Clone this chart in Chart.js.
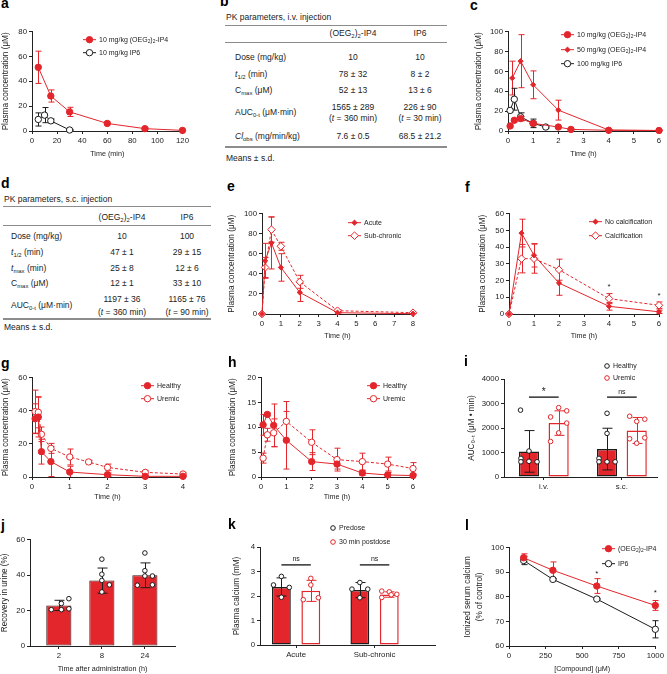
<!DOCTYPE html>
<html>
<head>
<meta charset="utf-8">
<title>PK figure</title>
<script src="https://cdn.jsdelivr.net/npm/chart.js@4.4.1/dist/chart.umd.min.js"></script>
<style>
body{margin:0;width:667px;height:674px;position:relative;background:#fff;overflow:hidden;
  font-family:"Liberation Sans",Arial,sans-serif;color:#222}
.lbl{position:absolute;font-weight:bold;font-size:14px;line-height:14px;color:#000}
.t{position:absolute;font-size:8.5px;line-height:10px;white-space:nowrap}
.c{transform:translateX(-50%)}
.t sub{font-size:70%;line-height:0;vertical-align:-0.3em}
.rule{position:absolute;height:0;border-top:1px solid #8c8c8c}
.rule.b{border-top-width:2px}
</style>
</head>
<body>

<div class="lbl" style="left:1px;top:-4px">a</div>
<div class="lbl" style="left:220px;top:-6px">b</div>
<div class="lbl" style="left:470px;top:-2px">c</div>
<div class="lbl" style="left:1px;top:176px">d</div>
<div class="lbl" style="left:227px;top:179px">e</div>
<div class="lbl" style="left:465px;top:180px">f</div>
<div class="lbl" style="left:1px;top:356px">g</div>
<div class="lbl" style="left:228px;top:355px">h</div>
<div class="lbl" style="left:464px;top:354px">i</div>
<div class="lbl" style="left:1px;top:518px">j</div>
<div class="lbl" style="left:228px;top:517px">k</div>
<div class="lbl" style="left:465px;top:518px">l</div>

<!-- b: i.v. table -->
<div class="t" style="left:226px;top:12px">PK parameters, i.v. injection</div>
<div class="rule" style="left:225px;top:25px;width:222px"></div>
<div class="t c" style="left:353px;top:28px">(OEG<sub>2</sub>)<sub>2</sub>-IP4</div>
<div class="t c" style="left:420px;top:28px">IP6</div>
<div class="rule" style="left:225px;top:42px;width:222px"></div>
<div class="t" style="left:235px;top:52px">Dose (mg/kg)</div>
<div class="t c" style="left:353px;top:52px">10</div>
<div class="t c" style="left:420px;top:52px">10</div>
<div class="t" style="left:235px;top:69px"><i>t</i><sub>1/2</sub> (min)</div>
<div class="t c" style="left:353px;top:69px">78 ± 32</div>
<div class="t c" style="left:420px;top:69px">8 ± 2</div>
<div class="t" style="left:235px;top:85px">C<sub>max</sub> (μM)</div>
<div class="t c" style="left:353px;top:85px">52 ± 13</div>
<div class="t c" style="left:420px;top:85px">13 ± 6</div>
<div class="t" style="left:235px;top:107px">AUC<sub>0-t</sub> (μM·min)</div>
<div class="t c" style="left:353px;top:102px">1565 ± 289</div>
<div class="t c" style="left:420px;top:102px">226 ± 90</div>
<div class="t c" style="left:353px;top:113px">(<i>t</i> = 360 min)</div>
<div class="t c" style="left:420px;top:113px">(<i>t</i> = 30 min)</div>
<div class="t" style="left:235px;top:131px"><i>Cl</i><sub>obs</sub> (mg/min/kg)</div>
<div class="t c" style="left:353px;top:131px">7.6 ± 0.5</div>
<div class="t c" style="left:420px;top:131px">68.5 ± 21.2</div>
<div class="rule b" style="left:225px;top:146px;width:222px"></div>
<div class="t" style="left:226px;top:153px">Means ± s.d.</div>

<!-- d: s.c. table -->
<div class="t" style="left:4px;top:194px">PK parameters, s.c. injection</div>
<div class="rule" style="left:3px;top:206px;width:208px"></div>
<div class="t c" style="left:122px;top:212px">(OEG<sub>2</sub>)<sub>2</sub>-IP4</div>
<div class="t c" style="left:187px;top:212px">IP6</div>
<div class="rule" style="left:3px;top:225px;width:208px"></div>
<div class="t" style="left:11px;top:231px">Dose (mg/kg)</div>
<div class="t c" style="left:122px;top:231px">10</div>
<div class="t c" style="left:187px;top:231px">100</div>
<div class="t" style="left:11px;top:247px"><i>t</i><sub>1/2</sub> (min)</div>
<div class="t c" style="left:122px;top:247px">47 ± 1</div>
<div class="t c" style="left:187px;top:247px">29 ± 15</div>
<div class="t" style="left:11px;top:263px"><i>t</i><sub>max</sub> (min)</div>
<div class="t c" style="left:122px;top:263px">25 ± 8</div>
<div class="t c" style="left:187px;top:263px">12 ± 6</div>
<div class="t" style="left:11px;top:278px">C<sub>max</sub> (μM)</div>
<div class="t c" style="left:122px;top:278px">12 ± 1</div>
<div class="t c" style="left:187px;top:278px">33 ± 10</div>
<div class="t" style="left:11px;top:300px">AUC<sub>0-t</sub> (μM·min)</div>
<div class="t c" style="left:122px;top:294px">1197 ± 36</div>
<div class="t c" style="left:187px;top:294px">1165 ± 76</div>
<div class="t c" style="left:122px;top:307px">(<i>t</i> = 360 min)</div>
<div class="t c" style="left:187px;top:307px">(<i>t</i> = 90 min)</div>
<div class="rule b" style="left:3px;top:318px;width:208px"></div>
<div class="t" style="left:4px;top:322px">Means ± s.d.</div>

<script>
// ---------- data ----------
// a: i.v., time in min
var aTimeIP4 = [5, 15, 30, 60, 90, 120];
var aIP4 = [51.3, 28.2, 15.4, 6.1, 1.9, 0.5];
var aIP4Sd = [13, 4.9, 3.7, 1, 0.8, 0.3];
var aTimeIP6 = [5, 10, 15, 30];
var aIP6 = [9.3, 12.8, 8.2, 0.8];
var aIP6Sd = [5.3, 6.1, 1.5, 0.5];

// c: s.c., time in h
var cTime10 = [0.083, 0.25, 0.5, 1, 2, 2.5, 4, 6];
var c10 = [5, 10.8, 12.5, 7.7, 4, 1.6, 0.7, 0.5];
var c10Sd = [1, 1.5, 2, 2, 1, 0.5, 0.3, 0.2];
var cTime50 = [0.167, 0.5, 1, 2, 4, 6];
var c50 = [53.3, 70.3, 46.5, 21, 1, 0.5];
var c50Sd = [17, 26.7, 14, 10, 0.5, 0.3];
var cTimeIP6 = [0.083, 0.25, 0.5, 1, 1.5];
var cIP6 = [20.7, 32, 14.3, 7.7, 4];
var cIP6Sd = [1.5, 11, 4, 4.3, 1];

// e
var eTime = [0, 0.167, 0.5, 1, 2, 4, 8];
var eAcute = [0, 53, 70.9, 46.4, 21.5, 1.3, 0.3];
var eAcuteSd = [0, 17.4, 26, 13.7, 9, 0.5, 0.3];
var eSub = [0, 46.4, 84.1, 67.5, 32.1, 3.3, 1.3];
var eSubSd = [0, 10, 12.5, 4, 6.5, 1, 0.5];

// f
var fTime = [0, 0.5, 1, 2, 4, 6];
var fNoCalc = [0, 48.4, 35.1, 18.5, 4.6, 1.3];
var fNoCalcSd = [0, 8.3, 7, 7.3, 2.3, 1];
var fCalc = [0, 33.1, 33.1, 26.5, 9.2, 5.2];
var fCalcSd = [0, 8.5, 8.7, 6.3, 3, 2];
var fStarX = [4, 6];
var fStarY = [16, 10.8];

// g
var gTimeHealthy = [0.083, 0.167, 0.25, 0.5, 1, 2, 3, 4];
var gHealthy = [35.2, 36.2, 15.3, 9.3, 3, 1.4, 0.4, 0.4];
var gHealthySd = [9, 12, 7.5, 9, 3.5, 1, 0.3, 0.2];
var gTimeUremic = [0.083, 0.167, 0.25, 0.5, 1, 1.5, 2, 3, 4];
var gUremic = [39.5, 39.1, 25.8, 17.3, 12.1, 9.1, 5.8, 2.8, 1.8];
var gUremicSd = [13, 9.4, 4.4, 3, 4.8, 1, 2, 1, 0.7];

// h
var hTime = [0.083, 0.25, 0.5, 1, 2, 3, 4, 5, 6];
var hHealthy = [10.5, 12.6, 10.4, 7.4, 3.1, 2.6, 0.8, 0.4, 0.3];
var hHealthySd = [2.1, 0.3, 4.3, 5.8, 1.8, 1, 0.5, 0.5, 0.3];
var hUremic = [3.8, 8.5, 8.9, 11.2, 7, 3.5, 3.1, 2.6, 1.7];
var hUremicSd = [1, 1.3, 2.8, 4, 2.5, 2.3, 1.7, 1.4, 1.2];

// i: AUC bars
var iGroups = ['i.v.', 's.c.'];
var iHealthy = [1045, 1140];
var iHealthySd = [850, 850];
var iUremic = [2200, 1900];
var iUremicSd = [500, 530];
var iHealthyDots = [[2730, 1060, 760, 620, 640, 620], [2600, 1780, 760, 620, 620, 620]];
var iUremicDots = [[2830, 2700, 2450, 2200, 1800, 1450], [2480, 2360, 2270, 1600, 1560, 1380]];

// j: urine recovery
var jTimes = ['2', '8', '24'];
var jRecovery = [22.9, 36.9, 39.9];
var jRecoverySd = [2.9, 7.1, 7];
var jDots = [[20.5, 24, 26.7, 20.5, 21], [49, 40.5, 37, 34.5, 30.5], [52.5, 42.5, 39.5, 39.5, 34.3, 34.5]];

// k: plasma calcium
var kGroups = ['Acute', 'Sub-chronic'];
var kPre = [2.37, 2.24];
var kPreSd = [0.37, 0.31];
var kPost = [2.21, 2.06];
var kPostSd = [0.43, 0.11];
var kPreDots = [[2.45, 2.8, 2.35, 1.95], [2.55, 2.28, 2.28, 1.93]];
var kPostDots = [[2.72, 2.45, 1.85, 1.93], [2.2, 2.17, 2.07, 1.94, 2.05]];

// l: ionized calcium
var lConc = [100, 300, 600, 1000];
var lIP4 = [95.9, 90.8, 84.4, 76.5];
var lIP4Sd = [1.6, 3.4, 3, 2];
var lIP6 = [94.8, 87.1, 79.1, 66.8];
var lIP6Sd = [1.7, 0.3, 0.3, 3.5];
var lStarX = [600, 1000];
var lStarY = [89.5, 81.5];

// ---------- style ----------
var RED = '#e3262b', DARK = '#1c1c1c';
var FONT = '"Liberation Sans", Arial, sans-serif';
var TICK = 7.8, YT = 8.2, XT = 7.2;

Chart.defaults.font.family = FONT;
Chart.defaults.color = '#222';

function val(d) { return typeof d === 'object' ? d.y : d; }

function drawErrors(chart, onTop) {
    var ctx = chart.ctx, ys = chart.scales.y;
    chart.data.datasets.forEach(function (ds, di) {
        if (!ds.errors || !!ds.errOnTop !== onTop) return;
        var meta = chart.getDatasetMeta(di);
        ctx.save();
        ctx.strokeStyle = ds.errColor || ds.borderColor;
        ctx.lineWidth = 1;
        meta.data.forEach(function (el, i) {
            var e = ds.errors[i];
            if (!e) return;
            var v = val(ds.data[i]);
            var hi = ys.getPixelForValue(v + e);
            var lo = ys.getPixelForValue(Math.max(v - e, ys.min));
            var x = Math.round(el.x) + 0.5, w = (ds.capW || 6) / 2;
            ctx.beginPath();
            ctx.moveTo(x, hi); ctx.lineTo(x, lo);
            ctx.moveTo(x - w, hi); ctx.lineTo(x + w, hi);
            if (v - e > ys.min) { ctx.moveTo(x - w, lo); ctx.lineTo(x + w, lo); }
            ctx.stroke();
        });
        ctx.restore();
    });
}

function drawDots(chart) {
    var ctx = chart.ctx, ys = chart.scales.y;
    chart.data.datasets.forEach(function (ds, di) {
        if (!ds.dots) return;
        var meta = chart.getDatasetMeta(di);
        ctx.save();
        meta.data.forEach(function (bar, i) {
            ds.dots[i].forEach(function (v, k) {
                var x = bar.x + ds.jitter[i][k] * bar.width, y = ys.getPixelForValue(v);
                ctx.beginPath();
                ctx.arc(x, y, 2.3, 0, Math.PI * 2);
                ctx.fillStyle = '#fff';
                ctx.fill();
                ctx.lineWidth = 1;
                ctx.strokeStyle = ds.dotColor;
                ctx.stroke();
            });
        });
        ctx.restore();
    });
}

var errPlugin = {
    id: 'errs',
    beforeDatasetsDraw: function (chart) { drawErrors(chart, false); },
    afterDatasetsDraw: function (chart) { drawErrors(chart, true); drawDots(chart); }
};

// "_x" puts the single char x in subscript
function richText(ctx, str, x, y, size) {
    var cx = x;
    for (var i = 0; i < str.length; i++) {
        var ch = str[i], sub = false;
        if (ch === '_') { sub = true; ch = str[++i]; }
        ctx.font = (sub ? size * 0.7 : size) + 'px ' + FONT;
        ctx.fillText(ch, cx, sub ? y + size * 0.3 : y);
        cx += ctx.measureText(ch).width;
    }
}

var keyPlugin = {
    id: 'keys',
    afterDraw: function (chart, args, o) {
        if (!o.dy) return;
        var ctx = chart.ctx, a = chart.chartArea;
        var items = o.items || chart.data.datasets.map(function (ds) {
            return { text: ds.label, color: ds.borderColor, bg: ds.pointBackgroundColor,
                     style: ds.pointStyle, r: ds.pointRadius, dash: ds.borderDash };
        });
        items.forEach(function (it, i) {
            var x = a.left + o.dx, y = a.top + o.dy[i], mx = x, tx = x + 6;
            ctx.save();
            if (!o.noLine) {
                ctx.strokeStyle = it.color;
                ctx.lineWidth = 1;
                ctx.setLineDash(it.dash || []);
                ctx.beginPath(); ctx.moveTo(x, y); ctx.lineTo(x + 13, y); ctx.stroke();
                ctx.setLineDash([]);
                mx = x + 6.5; tx = x + 16;
            }
            ctx.fillStyle = it.bg;
            ctx.strokeStyle = it.color;
            ctx.lineWidth = 1;
            Chart.helpers.drawPoint(ctx, { pointStyle: it.style, radius: it.r, rotation: 0, borderWidth: 1 }, mx, y);
            ctx.fillStyle = '#222';
            ctx.textBaseline = 'middle';
            ctx.textAlign = 'left';
            richText(ctx, it.text, tx, y, 7);
            ctx.restore();
        });
    }
};

var sigPlugin = {
    id: 'sig',
    afterDatasetsDraw: function (chart, args, o) {
        var ctx = chart.ctx, ys = chart.scales.y, xs = chart.scales.x;
        ctx.save();
        ctx.fillStyle = '#222';
        ctx.strokeStyle = '#222';
        ctx.textAlign = 'center';
        (o.brackets || []).forEach(function (b) {
            var x1 = chart.getDatasetMeta(0).data[b.i].x, x2 = chart.getDatasetMeta(1).data[b.i].x;
            var y = ys.getPixelForValue(b.y);
            ctx.lineWidth = 1.4;
            ctx.beginPath(); ctx.moveTo(x1, y); ctx.lineTo(x2, y); ctx.stroke();
            ctx.textBaseline = 'bottom';
            ctx.font = (b.text === '*' ? 10 : 7) + 'px ' + FONT;
            ctx.fillText(b.text, (x1 + x2) / 2, y - (b.text === '*' ? 0 : 2));
        });
        if (o.starX) {
            ctx.font = '8px ' + FONT;
            ctx.textBaseline = 'middle';
            o.starX.forEach(function (x, i) {
                ctx.fillText('*', xs.getPixelForValue(x), ys.getPixelForValue(o.starY[i]));
            });
        }
        ctx.restore();
    }
};

Chart.register(errPlugin, keyPlugin, sigPlugin);

function linAxis(min, max, step, title, tsize) {
    return {
        type: 'linear', min: min, max: max, offset: false,
        ticks: { stepSize: step, padding: 2, font: { size: TICK }, color: '#222', maxRotation: 0, autoSkip: false,
                 callback: function (v) { return String(v); } },
        grid: { drawOnChartArea: false, drawTicks: true, tickLength: 3, color: '#222', lineWidth: 1, offset: false },
        border: { color: '#222', width: 1 },
        title: { display: !!title, text: title, padding: 0, font: { size: tsize || XT }, color: '#222' }
    };
}

function catAxis(labels, min, max, title) {
    var ax = linAxis(min, max, 1, title);
    ax.afterBuildTicks = function (s) { s.ticks = labels.map(function (_, i) { return { value: i }; }); };
    ax.ticks.callback = function (v) { return labels[v]; };
    return ax;
}

function panel(g, type, datasets, xAx, yAx, plug) {
    var lh = g.lh || YT * 1.2;
    var left = Math.round(g.tx - lh / 2);
    var pt = g.pt || 6, pr = Math.min(8, 667 - g.x1);
    var top = g.y0 - pt, right = g.x1 + pr;
    var bottom = g.ty ? Math.round(g.ty + XT * 0.6) : g.y1 + 18;
    var w = right - left, h = bottom - top;
    var cv = document.createElement('canvas');
    cv.width = w; cv.height = h;
    cv.style.cssText = 'position:absolute;left:' + left + 'px;top:' + top + 'px;width:' + w + 'px;height:' + h + 'px';
    document.body.insertBefore(cv, document.body.firstChild);
    var yw = g.x0 - left, xh = bottom - g.y1;
    xAx.afterFit = function (s) { s.height = xh; };
    yAx.afterFit = function (s) { s.width = yw; };
    if (g.lh) yAx.title.font.lineHeight = g.lh / YT;
    return new Chart(cv, {
        type: type,
        data: { datasets: datasets },
        options: {
            responsive: false, animation: false, devicePixelRatio: 1,
            layout: { padding: { left: 0, top: pt, right: pr, bottom: 0 } },
            scales: { x: xAx, y: yAx },
            plugins: Object.assign({ legend: { display: false }, tooltip: { enabled: false } }, plug)
        }
    });
}

function series(label, xs, ys, sd, style) {
    return Object.assign({
        label: label,
        data: xs.map(function (x, i) { return { x: x, y: ys[i] }; }),
        errors: sd, borderWidth: 1, clip: false, tension: 0, pointBorderWidth: 1, pointHoverRadius: 0
    }, style);
}

function bars(label, ys, sd, dots, jitter, style) {
    return Object.assign({
        label: label,
        data: ys.map(function (y, i) { return { x: i, y: y }; }),
        errors: sd, errOnTop: true, capW: 10, dots: dots, jitter: jitter,
        borderSkipped: false
    }, style);
}

var sRedDot = { borderColor: RED, backgroundColor: RED, pointBackgroundColor: RED, pointStyle: 'circle', pointRadius: 3.2 };
var sOpenBlack = { borderColor: DARK, backgroundColor: '#fff', pointBackgroundColor: '#fff', pointStyle: 'circle', pointRadius: 3.2 };
var sSmallRed = { borderColor: RED, backgroundColor: RED, pointBackgroundColor: RED, pointStyle: 'rectRot', pointRadius: 2.6 };
var sOpenDiamond = { borderColor: RED, backgroundColor: '#fff', pointBackgroundColor: '#fff', pointStyle: 'rectRot', pointRadius: 3.8, borderDash: [3, 2] };
var sOpenRedDash = { borderColor: RED, backgroundColor: '#fff', pointBackgroundColor: '#fff', pointStyle: 'circle', pointRadius: 3.2, borderDash: [3, 2] };

var PC = 'Plasma concentration (μM)';

// a
panel({ x0: 32, x1: 183, y0: 31, y1: 131, tx: 6, ty: 154 }, 'line', [
    series('10 mg/kg (OEG_2)_2-IP4', aTimeIP4, aIP4, aIP4Sd, sRedDot),
    series('10 mg/kg IP6', aTimeIP6, aIP6, aIP6Sd, sOpenBlack)
], linAxis(0, 120, 20, 'Time (min)'), linAxis(0, 80, 20, PC, YT), { keys: { dx: 51, dy: [8, 21] } });

// c
panel({ x0: 508, x1: 659, y0: 31, y1: 131, tx: 479, ty: 154 }, 'line', [
    series('10 mg/kg (OEG_2)_2-IP4', cTime10, c10, c10Sd, sRedDot),
    series('50 mg/kg (OEG_2)_2-IP4', cTime50, c50, c50Sd, sSmallRed),
    series('100 mg/kg IP6', cTimeIP6, cIP6, cIP6Sd, sOpenBlack)
], linAxis(0, 6, 1, 'Time (h)'), linAxis(0, 100, 20, PC, YT), { keys: { dx: 53, dy: [3, 18, 32] } });

// e
panel({ x0: 262, x1: 413, y0: 213, y1: 314, tx: 232, ty: 336 }, 'line', [
    series('Acute', eTime, eAcute, eAcuteSd, sSmallRed),
    series('Sub-chronic', eTime, eSub, eSubSd, sOpenDiamond)
], linAxis(0, 8, 1, 'Time (h)'), linAxis(0, 100, 20, PC, YT), { keys: { dx: 86, dy: [9, 22] } });

// f
panel({ x0: 509, x1: 659, y0: 213, y1: 314, tx: 483, ty: 336 }, 'line', [
    series('No calcification', fTime, fNoCalc, fNoCalcSd, sSmallRed),
    series('Calcification', fTime, fCalc, fCalcSd, sOpenDiamond)
], linAxis(0, 6, 1, 'Time (h)'), linAxis(0, 60, 10, PC, YT),
    { keys: { dx: 80, dy: [8, 22] }, sig: { starX: fStarX, starY: fStarY } });

// g
panel({ x0: 32, x1: 183, y0: 377, y1: 477, tx: 6, ty: 497 }, 'line', [
    series('Healthy', gTimeHealthy, gHealthy, gHealthySd, sRedDot),
    series('Uremic', gTimeUremic, gUremic, gUremicSd, sOpenRedDash)
], linAxis(0, 4, 1, 'Time (h)'), linAxis(0, 60, 20, PC, YT), { keys: { dx: 109, dy: [8, 21] } });

// h
panel({ x0: 261, x1: 413, y0: 377, y1: 477, tx: 233, ty: 497 }, 'line', [
    series('Healthy', hTime, hHealthy, hHealthySd, sRedDot),
    series('Uremic', hTime, hUremic, hUremicSd, sOpenRedDash)
], linAxis(0, 6, 1, 'Time (h)'), linAxis(0, 20, 5, PC, YT), { keys: { dx: 106, dy: [8, 21] } });

// i
panel({ x0: 504, x1: 657, y0: 379, y1: 477, tx: 472, pt: 30 }, 'bar', [
    bars('Healthy', iHealthy, iHealthySd, iHealthyDots,
        [[-0.42, 0, -0.4, -0.4, 0, 0.4], [0, 0, -0.4, -0.4, 0, 0.4]],
        { backgroundColor: RED, borderColor: DARK, borderWidth: 1.5, errColor: DARK, dotColor: DARK,
          categoryPercentage: 0.76, barPercentage: 0.68 }),
    bars('Uremic', iUremic, iUremicSd, iUremicDots,
        [[0, 0.4, -0.4, 0.4, 0, -0.4], [-0.35, 0.4, 0, 0.4, -0.35, 0]],
        { backgroundColor: '#fff', borderColor: RED, borderWidth: 1.5, errColor: RED, dotColor: RED,
          categoryPercentage: 0.76, barPercentage: 0.68 })
], catAxis(iGroups, -0.51, 1.45), linAxis(0, 4000, 1000, 'AUC₀₋ₜ (μM • min)', YT), {
    keys: { dx: 103, dy: [-13, -1], noLine: true, items: [
        { text: 'Healthy', color: DARK, bg: '#fff', style: 'circle', r: 2.3 },
        { text: 'Uremic', color: RED, bg: '#fff', style: 'circle', r: 2.3 }] },
    sig: { brackets: [{ i: 0, y: 3260, text: '*' }, { i: 1, y: 3260, text: 'ns' }] }
});

// j
panel({ x0: 30, x1: 175, y0: 539, y1: 646, tx: 5, ty: 669 }, 'bar', [
    bars('Recovery', jRecovery, jRecoverySd, jDots,
        [[-0.3, 0.1, 0.4, 0.1, 0.4], [0, 0, 0, 0.3, 0], [0, 0, 0, 0.3, -0.3, 0.3]],
        { backgroundColor: RED, borderColor: '#3a1515', borderWidth: 1, errColor: DARK, dotColor: DARK,
          categoryPercentage: 0.8, barPercentage: 0.73 })
], catAxis(jTimes, -0.67, 2.7, 'Time after administration (h)'), linAxis(0, 60, 20, 'Recovery in urine (%)', YT), {});

// k
panel({ x0: 260, x1: 435, y0: 547, y1: 645, tx: 237, pt: 30 }, 'bar', [
    bars('Predose', kPre, kPreSd, kPreDots,
        [[-0.42, 0, 0.42, 0], [0, -0.42, 0.42, 0]],
        { backgroundColor: RED, borderColor: DARK, borderWidth: 1.5, errColor: DARK, dotColor: DARK,
          categoryPercentage: 0.75, barPercentage: 0.64 }),
    bars('30 min postdose', kPost, kPostSd, kPostDots,
        [[0, 0, -0.4, 0.4], [-0.4, 0, 0.4, -0.4, 0.1]],
        { backgroundColor: '#fff', borderColor: RED, borderWidth: 1.5, errColor: RED, dotColor: RED,
          categoryPercentage: 0.75, barPercentage: 0.64 })
], catAxis(kGroups, -0.46, 1.77), linAxis(0, 4, 1, 'Plasma calcium (mM)', YT), {
    keys: { dx: 73, dy: [-19, -5], noLine: true, items: [
        { text: 'Predose', color: DARK, bg: '#fff', style: 'circle', r: 2.3 },
        { text: '30 min postdose', color: RED, bg: '#fff', style: 'circle', r: 2.3 }] },
    sig: { brackets: [{ i: 0, y: 3.27, text: 'ns' }, { i: 1, y: 3.27, text: 'ns' }] }
});

// l
panel({ x0: 509, x1: 658, y0: 547, y1: 646, tx: 468, ty: 669, lh: 11.9 }, 'line', [
    series('(OEG_2)_2-IP4', lConc, lIP4, lIP4Sd, sRedDot),
    series('IP6', lConc, lIP6, lIP6Sd, sOpenBlack)
], linAxis(0, 1000, 250, '[Compound] (μM)'),
    linAxis(60, 100, 10, ['Ionized serum calcium', '(% of control)'], YT),
    { keys: { dx: 93, dy: [1, 16] }, sig: { starX: lStarX, starY: lStarY } });
</script>
</body>
</html>
